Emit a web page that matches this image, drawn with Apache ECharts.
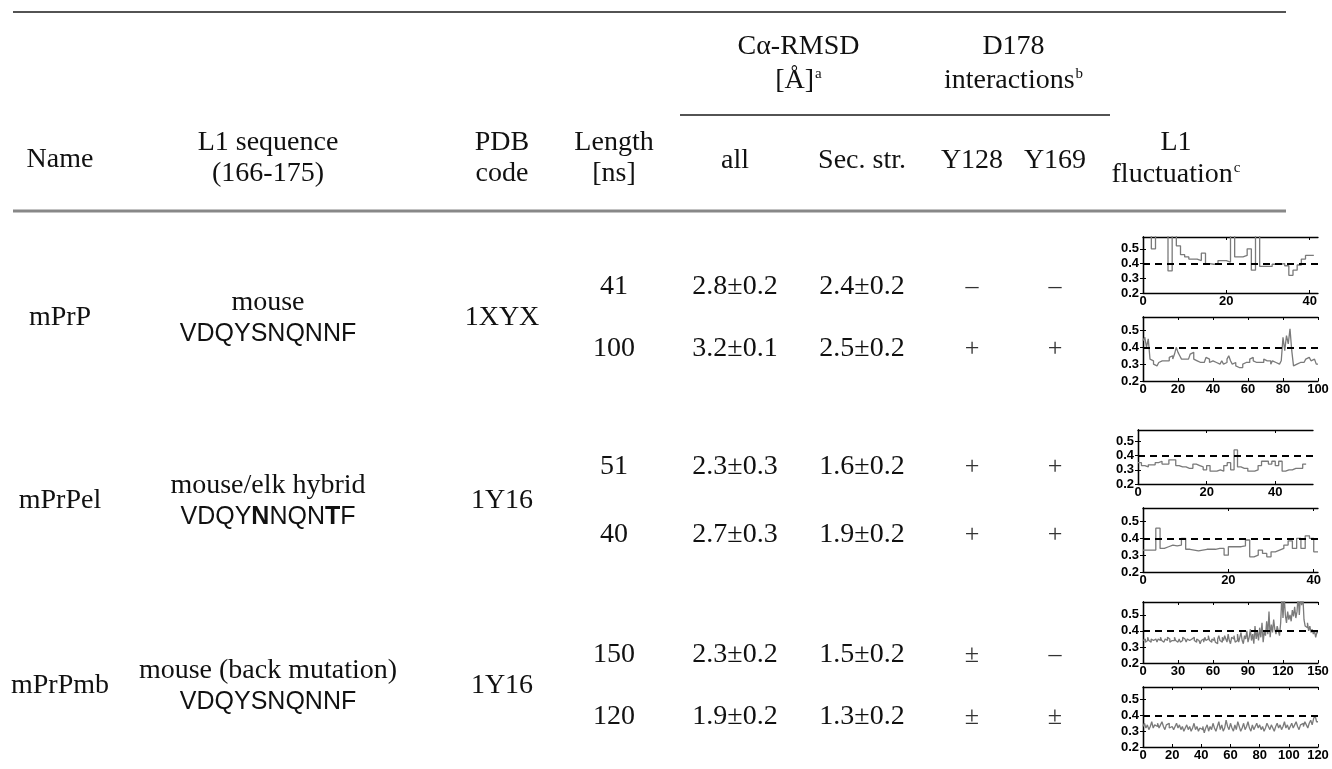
<!DOCTYPE html>
<html>
<head>
<meta charset="utf-8">
<script src="https://cdn.jsdelivr.net/npm/echarts@6/dist/echarts.min.js"></script>
<style>
  html, body { margin: 0; padding: 0; background: #ffffff; }
  #chart { width: 1332px; height: 769px; }
</style>
</head>
<body>
<div id="chart"></div>
<script>
// ---- table content ----
const systemNames = ['mPrP', 'mPrPel', 'mPrPmb'];
const variantNames = ['mouse', 'mouse/elk hybrid', 'mouse (back mutation)'];
const l1Sequences = ['VDQYSNQNNF', 'VDQY{b|N}NQN{b|T}F', 'VDQYSNQNNF'];
const pdbCodes = ['1XYX', '1Y16', '1Y16'];

// one entry per simulation run
const runLengths = [41, 100, 51, 40, 150, 120];
const rmsdAllMean = [2.8, 3.2, 2.3, 2.7, 2.3, 1.9];
const rmsdAllSd = [0.2, 0.1, 0.3, 0.3, 0.2, 0.2];
const rmsdSecMean = [2.4, 2.5, 1.6, 1.9, 1.5, 1.3];
const rmsdSecSd = [0.2, 0.2, 0.2, 0.2, 0.2, 0.2];
const y128Contact = ['–', '+', '+', '+', '±', '±'];
const y169Contact = ['–', '+', '+', '+', '–', '±'];

// L1 loop fluctuation per ns
const fluct41 = [0.62, 0.62, 0.50, 0.62, 0.62, 0.62, 0.35, 0.62, 0.52, 0.46,
  0.445, 0.43, 0.43, 0.42, 0.47, 0.40, 0.395, 0.395, 0.42, 0.42,
  0.41, 0.62, 0.445, 0.445, 0.455, 0.50, 0.355, 0.62, 0.38, 0.38,
  0.38, 0.395, 0.395, 0.40, 0.385, 0.32, 0.355, 0.39, 0.43, 0.455, 0.455];
const fluct100 = [0.44, 0.46, 0.40, 0.45, 0.33, 0.32, 0.30, 0.29, 0.30, 0.31,
  0.32, 0.31, 0.32, 0.33, 0.32, 0.34, 0.35, 0.33, 0.36, 0.40,
  0.37, 0.35, 0.33, 0.33, 0.32, 0.33, 0.34, 0.36, 0.37, 0.33,
  0.32, 0.33, 0.31, 0.30, 0.31, 0.32, 0.34, 0.33, 0.31, 0.32,
  0.33, 0.31, 0.30, 0.30, 0.31, 0.32, 0.30, 0.31, 0.33, 0.35,
  0.32, 0.30, 0.31, 0.29, 0.28, 0.29, 0.28, 0.30, 0.31, 0.30,
  0.31, 0.33, 0.34, 0.32, 0.31, 0.30, 0.31, 0.32, 0.31, 0.33,
  0.32, 0.31, 0.32, 0.30, 0.32, 0.31, 0.32, 0.30, 0.31, 0.32,
  0.46, 0.38, 0.47, 0.42, 0.51, 0.38, 0.29, 0.30, 0.30, 0.31,
  0.32, 0.31, 0.32, 0.33, 0.34, 0.33, 0.32, 0.33, 0.32, 0.30];
const fluct51 = [0.35, 0.33, 0.32, 0.335, 0.335, 0.35, 0.36, 0.34, 0.34, 0.37,
  0.37, 0.33, 0.32, 0.32, 0.31, 0.31, 0.34, 0.33, 0.32, 0.30,
  0.33, 0.29, 0.29, 0.30, 0.29, 0.33, 0.35, 0.30, 0.44, 0.32,
  0.31, 0.31, 0.29, 0.29, 0.30, 0.33, 0.36, 0.36, 0.34, 0.36,
  0.33, 0.36, 0.29, 0.30, 0.30, 0.31, 0.31, 0.31, 0.34];
const fluct40 = [0.33, 0.33, 0.33, 0.46, 0.34, 0.35, 0.36, 0.355, 0.36, 0.40,
  0.335, 0.33, 0.325, 0.33, 0.335, 0.335, 0.335, 0.34, 0.34, 0.30,
  0.35, 0.35, 0.35, 0.355, 0.39, 0.29, 0.30, 0.33, 0.31, 0.29,
  0.32, 0.33, 0.34, 0.36, 0.385, 0.34, 0.40, 0.34, 0.415, 0.40, 0.32];
const fluct150 = [0.34, 0.35, 0.33, 0.34, 0.36, 0.34, 0.33, 0.35, 0.34, 0.33,
  0.35, 0.34, 0.33, 0.35, 0.34, 0.36, 0.34, 0.33, 0.34, 0.35,
  0.34, 0.36, 0.35, 0.33, 0.34, 0.35, 0.34, 0.36, 0.34, 0.33,
  0.34, 0.35, 0.33, 0.34, 0.36, 0.35, 0.34, 0.33, 0.35, 0.34,
  0.33, 0.35, 0.34, 0.36, 0.34, 0.33, 0.35, 0.34, 0.33, 0.32,
  0.34, 0.35, 0.33, 0.36, 0.34, 0.35, 0.37, 0.34, 0.33, 0.35,
  0.34, 0.36, 0.33, 0.32, 0.35, 0.37, 0.34, 0.33, 0.36, 0.34,
  0.37, 0.35, 0.33, 0.38, 0.34, 0.32, 0.36, 0.35, 0.37, 0.33,
  0.34, 0.38, 0.33, 0.36, 0.39, 0.34, 0.32, 0.37, 0.35, 0.40,
  0.33, 0.36, 0.41, 0.34, 0.38, 0.32, 0.43, 0.35, 0.40, 0.34,
  0.42, 0.36, 0.45, 0.33, 0.40, 0.37, 0.46, 0.38, 0.52, 0.36,
  0.44, 0.39, 0.47, 0.41, 0.38, 0.43, 0.40, 0.37, 0.45, 0.62,
  0.48, 0.62, 0.50, 0.45, 0.52, 0.47, 0.50, 0.46, 0.53, 0.49,
  0.55, 0.48, 0.52, 0.62, 0.50, 0.62, 0.56, 0.62, 0.47, 0.43,
  0.42, 0.45, 0.40, 0.43, 0.39, 0.41, 0.38, 0.40, 0.36, 0.39];
const fluct120 = [0.33, 0.35, 0.32, 0.34, 0.31, 0.33, 0.36, 0.32, 0.34, 0.33,
  0.35, 0.32, 0.34, 0.36, 0.33, 0.31, 0.34, 0.35, 0.32, 0.33,
  0.34, 0.31, 0.33, 0.35, 0.32, 0.34, 0.31, 0.33, 0.30, 0.32,
  0.34, 0.31, 0.33, 0.30, 0.32, 0.35, 0.31, 0.33, 0.30, 0.32,
  0.31, 0.33, 0.29, 0.32, 0.34, 0.30, 0.33, 0.31, 0.35, 0.32,
  0.30, 0.33, 0.36, 0.31, 0.34, 0.30, 0.32, 0.37, 0.33, 0.31,
  0.35, 0.32, 0.30, 0.34, 0.31, 0.36, 0.33, 0.30, 0.32, 0.35,
  0.31, 0.33, 0.36, 0.32, 0.30, 0.34, 0.31, 0.33, 0.35, 0.32,
  0.34, 0.31, 0.33, 0.30, 0.32, 0.35, 0.33, 0.31, 0.34, 0.32,
  0.30, 0.33, 0.35, 0.32, 0.34, 0.31, 0.33, 0.36, 0.32, 0.34,
  0.31, 0.33, 0.35, 0.32, 0.34, 0.36, 0.33, 0.31, 0.34, 0.35,
  0.33, 0.36, 0.34, 0.32, 0.35, 0.37, 0.34, 0.38, 0.40, 0.36];

const fluctSeries = [fluct41, fluct100, fluct51, fluct40, fluct150, fluct120];
const timeAxisMax = [42, 100, 51, 41, 150, 120];
const timeTicks = [
  [0, 20, 40],
  [0, 20, 40, 60, 80, 100],
  [0, 20, 40],
  [0, 20, 40],
  [0, 30, 60, 90, 120, 150],
  [0, 20, 40, 60, 80, 100, 120]
];
const fluctTicks = [0.2, 0.3, 0.4, 0.5];
const fluctRange = [0.2, 0.58];
const fluctReference = 0.4;

// ---- layout ----
const SERIF = '"Liberation Serif", "Times New Roman", serif';
const SANS = '"Liberation Sans", Arial, sans-serif';
const FS = 28;
const SEQ_FS = 25;
const INK = '#111111';

const col = { name: 60, seq: 268, pdb: 502, len: 614, all: 735, sec: 862, y128: 972, y169: 1055, fluct: 1176 };
const rowY = [287, 349, 467, 535, 655, 717];
const groupY = [318, 501, 686];
const sparkBox = [
  { left: 1143, top: 237, height: 56 },
  { left: 1143, top: 317, height: 64 },
  { left: 1138, top: 430, height: 54 },
  { left: 1143, top: 508, height: 64 },
  { left: 1143, top: 602, height: 61 },
  { left: 1143, top: 687, height: 60 }
];
const sparkWidth = 175;

function txt(text, x, y, extra) {
  return {
    type: 'text', x: x, y: y, silent: true,
    style: Object.assign({
      text: text, fill: INK, fontFamily: SERIF, fontSize: FS,
      align: 'center', verticalAlign: 'middle'
    }, extra || {})
  };
}
function rule(x1, x2, y, color, w) {
  return { type: 'line', silent: true, shape: { x1: x1, y1: y, x2: x2, y2: y }, style: { stroke: color, lineWidth: w } };
}
const supRich = { sup: { fontSize: 15, fontFamily: SERIF, fill: INK, verticalAlign: 'top', padding: [0, 0, 0, 1] } };

const graphics = [
  rule(13, 1286, 12, '#1a1a1a', 1.5),
  rule(680, 1110, 115, '#1a1a1a', 1.5),
  rule(13, 1286, 211, '#888888', 3),
  txt('Cα-RMSD', (col.all + col.sec) / 2, 47),
  txt('[Å]{sup|a}', (col.all + col.sec) / 2, 81, { rich: supRich }),
  txt('D178', (col.y128 + col.y169) / 2, 47),
  txt('interactions{sup|b}', (col.y128 + col.y169) / 2, 81, { rich: supRich }),
  txt('Name', col.name, 160),
  txt('L1 sequence', col.seq, 143),
  txt('(166-175)', col.seq, 174),
  txt('PDB', col.pdb, 143),
  txt('code', col.pdb, 174),
  txt('Length', col.len, 143),
  txt('[ns]', col.len, 174),
  txt('all', col.all, 161),
  txt('Sec. str.', col.sec, 161),
  txt('Y128', col.y128, 161),
  txt('Y169', col.y169, 161),
  txt('L1', col.fluct, 143),
  txt('fluctuation{sup|c}', col.fluct, 175, { rich: supRich })
];

systemNames.forEach(function (n, g) {
  const gy = groupY[g];
  graphics.push(txt(n, col.name, gy));
  graphics.push(txt(variantNames[g], col.seq, gy - 15));
  graphics.push(txt(l1Sequences[g], col.seq, gy + 16, {
    fontFamily: SANS, fontSize: SEQ_FS,
    rich: { b: { fontFamily: SANS, fontSize: SEQ_FS, fontWeight: 'bold', fill: INK } }
  }));
  graphics.push(txt(pdbCodes[g], col.pdb, gy));
});

runLengths.forEach(function (len, i) {
  const y = rowY[i];
  graphics.push(txt(String(len), col.len, y));
  graphics.push(txt(rmsdAllMean[i].toFixed(1) + '±' + rmsdAllSd[i].toFixed(1), col.all, y));
  graphics.push(txt(rmsdSecMean[i].toFixed(1) + '±' + rmsdSecSd[i].toFixed(1), col.sec, y));
  graphics.push(txt(y128Contact[i], col.y128, y, { fontSize: 26, fill: '#333' }));
  graphics.push(txt(y169Contact[i], col.y169, y, { fontSize: 26, fill: '#333' }));
});

// ---- sparkline panels ----
const grids = [], xAxes = [], yAxes = [], series = [];
const frame = { show: true, lineStyle: { color: '#000', width: 1.3 } };
const tickIn = function (len) { return { show: true, inside: true, length: len, lineStyle: { color: '#000', width: 1 } }; };
const labelFont = { fontFamily: SANS, fontWeight: 'bold', fontSize: 13, color: '#000' };

fluctSeries.forEach(function (vals, i) {
  const b = sparkBox[i];
  grids.push({ left: b.left, top: b.top, width: sparkWidth, height: b.height, containLabel: false, show: false });
  const ticks = timeTicks[i];
  xAxes.push({
    type: 'value', gridIndex: i, min: 0, max: timeAxisMax[i], position: 'bottom',
    axisLine: frame, splitLine: { show: false },
    axisTick: Object.assign(tickIn(3), { customValues: ticks }),
    axisLabel: Object.assign({ margin: 2, customValues: ticks, showMinLabel: true, showMaxLabel: true }, labelFont)
  });
  xAxes.push({
    type: 'value', gridIndex: i, min: 0, max: timeAxisMax[i], position: 'top',
    axisLine: frame, splitLine: { show: false },
    axisTick: Object.assign(tickIn(3), { customValues: ticks }),
    axisLabel: { show: false }
  });
  yAxes.push({
    type: 'value', gridIndex: i, min: fluctRange[0], max: fluctRange[1], position: 'left',
    axisLine: frame, splitLine: { show: false },
    axisTick: Object.assign(tickIn(3), { customValues: fluctTicks }),
    axisLabel: Object.assign({ margin: 4, customValues: fluctTicks, formatter: function (v) { return v.toFixed(1); } }, labelFont)
  });
  yAxes.push({
    type: 'value', gridIndex: i, min: fluctRange[0], max: fluctRange[1], position: 'right',
    axisLine: frame, splitLine: { show: false },
    axisTick: Object.assign(tickIn(3), { customValues: fluctTicks }),
    axisLabel: { show: false }
  });
  const pts = vals.map(function (v, t) { return [t, v]; });
  pts.push([vals.length, vals[vals.length - 1]]);
  series.push({
    type: 'line', xAxisIndex: 2 * i, yAxisIndex: 2 * i, data: pts, step: 'end',
    showSymbol: false, silent: true, clip: true, animation: false,
    lineStyle: { color: '#7a7a7a', width: 1.3 },
    markLine: {
      silent: true, symbol: ['none', 'none'], animation: false,
      label: { show: false },
      lineStyle: { color: '#000', width: 2, type: [7, 5] },
      data: [{ yAxis: fluctReference }]
    }
  });
});

const chart = echarts.init(document.getElementById('chart'), null, { renderer: 'canvas' });
chart.setOption({
  animation: false,
  backgroundColor: '#ffffff',
  grid: grids,
  xAxis: xAxes,
  yAxis: yAxes,
  series: series,
  graphic: { elements: graphics }
});
</script>
</body>
</html>
